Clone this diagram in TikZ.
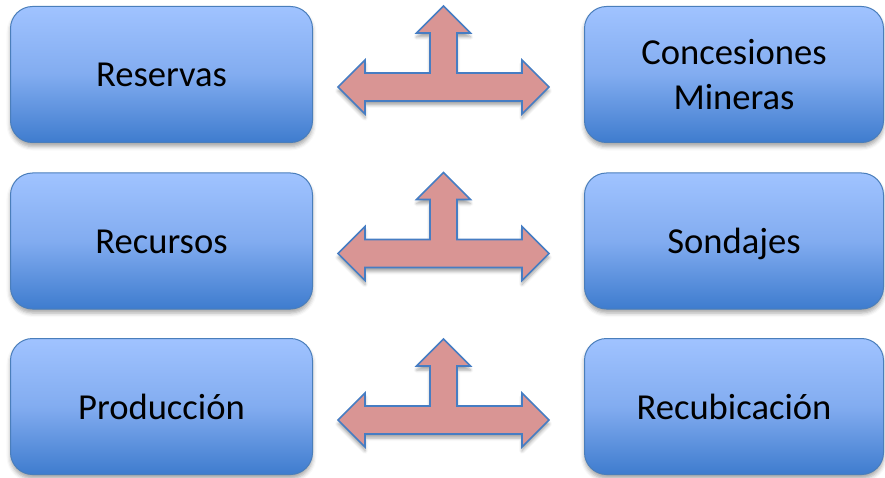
\documentclass[tikz,border=0pt]{standalone}
\usepackage{fontspec}
\setmainfont{Carlito}
\usetikzlibrary{shadows.blur}
\definecolor{boxtop}{RGB}{160,195,255}
\definecolor{boxmid}{RGB}{130,172,240}
\definecolor{boxbot}{RGB}{62,124,206}
\definecolor{boxline}{RGB}{74,126,187}
\definecolor{arrfill}{RGB}{217,149,148}
\definecolor{arrline}{RGB}{70,125,195}
\begin{document}
\begin{tikzpicture}[x=1pt,y=-1pt,
  box/.style={draw=boxline, line width=1pt, rounded corners=22pt,
    minimum height=136pt, top color=boxtop, bottom color=boxbot, middle color=boxmid,
    font=\fontsize{36.6}{45}\selectfont, align=center, inner sep=0pt,
    blur shadow={shadow xshift=0pt, shadow yshift=-4pt, shadow blur radius=4pt, shadow opacity=35}},
  oneline/.style={text height=25pt, text depth=0pt},
  leftbox/.style={box, oneline, minimum width=302pt},
  rightbox/.style={box, minimum width=299pt},
  tarrow/.style={draw=arrline, line width=1.6pt, fill=arrfill, line join=miter,
    blur shadow={shadow xshift=0pt, shadow yshift=-4pt, shadow blur radius=3pt, shadow opacity=35}}
]
\useasboundingbox (0,0) rectangle (885,478);

\node[leftbox] (res) at (161.5,74.5) {Reservas};
\node[leftbox] (rec) at (161.5,241) {Recursos};
\node[leftbox] (pro) at (161.5,406.5) {Producción};

\node[rightbox] (con) at (734,74.5) {Concesiones\\Mineras};
\node[rightbox, oneline] (son) at (734,241) {Sondajes};
\node[rightbox, oneline] (rcb) at (734,406.5) {Recubicación};

\coordinate (a1) at (443.5,87);
\coordinate (a2) at (443.5,253.5);
\coordinate (a3) at (443.5,420);

\foreach \i in {1,2,3}{
  \draw[tarrow, shift={(a\i)}]
    (-105.5,0) -- (-78.5,-27) -- (-78.5,-14) -- (-13.5,-14) -- (-13.5,-54)
    -- (-27,-54) -- (0,-81) -- (27,-54) -- (13.5,-54) -- (13.5,-14)
    -- (78.5,-14) -- (78.5,-27) -- (105.5,0) -- (78.5,27) -- (78.5,14)
    -- (-78.5,14) -- (-78.5,27) -- cycle;
}
\end{tikzpicture}
\end{document}
